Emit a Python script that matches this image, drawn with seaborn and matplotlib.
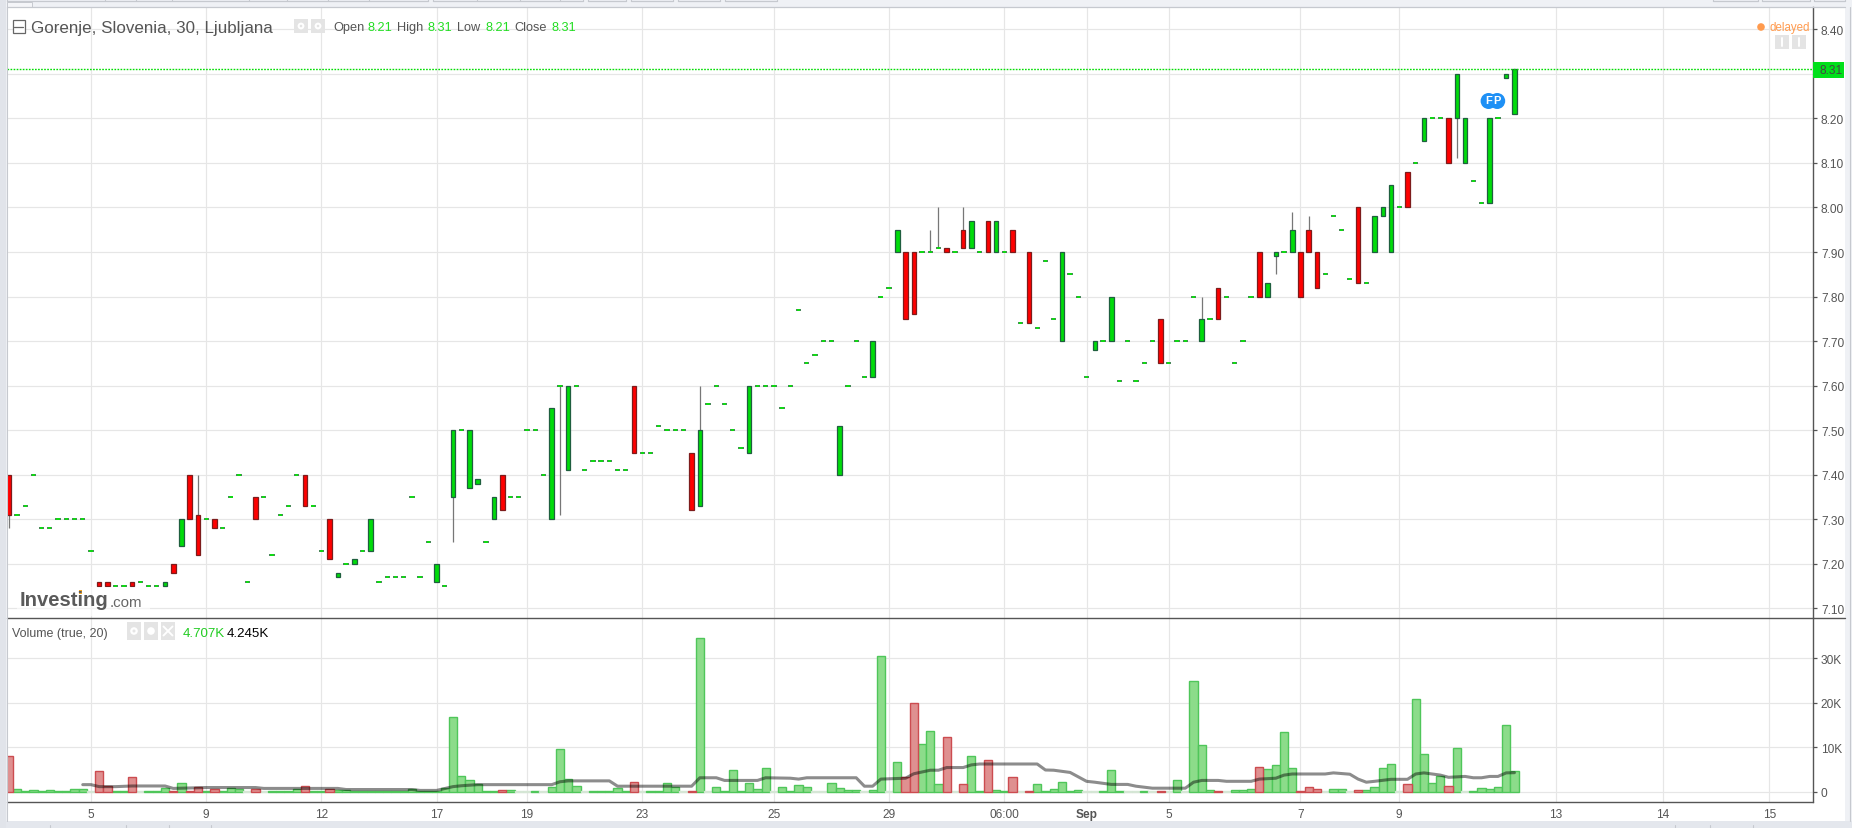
import numpy as np
import pandas as pd
import matplotlib
matplotlib.use("Agg")
import matplotlib.pyplot as plt
from matplotlib.patches import Rectangle, Ellipse
from matplotlib.lines import Line2D
import seaborn as sns

sns.set_theme(style="whitegrid")
plt.rcParams['font.family'] = ['Liberation Sans', 'DejaVu Sans']

# one entry per 30 minute slot
opens = [7.40, 7.31, 7.33, 7.40, 7.28, 7.28, 7.30, 7.30, 7.30, 7.30,
         7.23, 7.16, 7.16, 7.15, 7.15, 7.16, 7.16, 7.15, 7.15, 7.15,
         7.20, 7.24, 7.40, 7.31, 7.30, 7.30, 7.28, 7.35, 7.40, 7.16,
         7.35, 7.35, 7.22, 7.31, 7.33, 7.40, 7.40, 7.33, 7.23, 7.30,
         7.17, 7.20, 7.20, 7.23, 7.23, 7.16, 7.17, 7.17, 7.17, 7.35,
         7.17, 7.25, 7.16, 7.15, 7.35, 7.50, 7.37, 7.38, 7.25, 7.30,
         7.40, 7.35, 7.35, 7.50, 7.50, 7.40, 7.30, 7.60, 7.41, 7.60,
         7.41, 7.43, 7.43, 7.43, 7.41, 7.41, 7.60, 7.45, 7.45, 7.51,
         7.50, 7.50, 7.50, 7.45, 7.33, 7.56, 7.60, 7.56, 7.50, 7.46,
         7.45, 7.60, 7.60, 7.60, 7.55, 7.60, 7.77, 7.65, 7.67, 7.70,
         7.70, 7.40, 7.60, 7.70, 7.62, 7.62, 7.80, 7.82, 7.90, 7.90,
         7.90, 7.90, 7.90, 7.91, 7.91, 7.90, 7.95, 7.91, 7.90, 7.97,
         7.90, 7.90, 7.95, 7.74, 7.90, 7.73, 7.88, 7.75, 7.70, 7.85,
         7.80, 7.62, 7.68, 7.70, 7.70, 7.61, 7.70, 7.61, 7.65, 7.70,
         7.75, 7.65, 7.70, 7.70, 7.80, 7.70, 7.75, 7.82, 7.80, 7.65,
         7.70, 7.80, 7.90, 7.80, 7.89, 7.90, 7.90, 7.90, 7.95, 7.90,
         7.85, 7.98, 7.95, 7.84, 8.00, 7.83, 7.90, 7.98, 7.90, 8.00,
         8.08, 8.10, 8.15, 8.20, 8.20, 8.20, 8.20, 8.10, 8.06, 8.01,
         8.01, 8.20, 8.29, 8.21]
closes = [7.31, 7.31, 7.33, 7.40, 7.28, 7.28, 7.30, 7.30, 7.30, 7.30,
          7.23, 7.15, 7.15, 7.15, 7.15, 7.15, 7.16, 7.15, 7.15, 7.16,
          7.18, 7.30, 7.30, 7.22, 7.30, 7.28, 7.28, 7.35, 7.40, 7.16,
          7.30, 7.35, 7.22, 7.31, 7.33, 7.40, 7.33, 7.33, 7.23, 7.21,
          7.18, 7.20, 7.21, 7.23, 7.30, 7.16, 7.17, 7.17, 7.17, 7.35,
          7.17, 7.25, 7.20, 7.15, 7.50, 7.50, 7.50, 7.39, 7.25, 7.35,
          7.32, 7.35, 7.35, 7.50, 7.50, 7.40, 7.55, 7.60, 7.60, 7.60,
          7.41, 7.43, 7.43, 7.43, 7.41, 7.41, 7.45, 7.45, 7.45, 7.51,
          7.50, 7.50, 7.50, 7.32, 7.50, 7.56, 7.60, 7.56, 7.50, 7.46,
          7.60, 7.60, 7.60, 7.60, 7.55, 7.60, 7.77, 7.65, 7.67, 7.70,
          7.70, 7.51, 7.60, 7.70, 7.62, 7.70, 7.80, 7.82, 7.95, 7.75,
          7.76, 7.90, 7.90, 7.91, 7.90, 7.90, 7.91, 7.97, 7.90, 7.90,
          7.97, 7.90, 7.90, 7.74, 7.74, 7.73, 7.88, 7.75, 7.90, 7.85,
          7.80, 7.62, 7.70, 7.70, 7.80, 7.61, 7.70, 7.61, 7.65, 7.70,
          7.65, 7.65, 7.70, 7.70, 7.80, 7.75, 7.75, 7.75, 7.80, 7.65,
          7.70, 7.80, 7.80, 7.83, 7.90, 7.90, 7.95, 7.80, 7.90, 7.82,
          7.85, 7.98, 7.95, 7.84, 7.83, 7.83, 7.98, 8.00, 8.05, 8.00,
          8.00, 8.10, 8.20, 8.20, 8.20, 8.10, 8.30, 8.20, 8.06, 8.01,
          8.20, 8.20, 8.30, 8.31]

wick_slots = [0, 23, 54, 67, 84, 112, 113, 116, 145, 154, 156, 158, 176]
wick_ends = [7.28, 7.40, 7.25, 7.31, 7.60, 7.95, 8.00, 8.00, 7.80, 7.85, 7.99, 7.98, 8.11]

volume_k = [8.0, 0.5, 0.1, 0.3, 0.1, 0.3, 0.1, 0.1, 0.5, 0.5,
            0.05, 4.7, 1.2, 0.1, 0.2, 3.2, 0.05, 0.1, 0.1, 0.8,
            0.1, 2.0, 0.1, 1.1, 0.1, 0.5, 0.1, 0.9, 0.5, 0.05,
            0.5, 0.05, 0.1, 0.1, 0.1, 0.5, 1.2, 0.1, 0.1, 0.6,
            0.3, 0.3, 0.2, 0.1, 0.1, 0.1, 0.2, 0.1, 0.2, 0.5,
            0.2, 0.2, 0.1, 0.9, 16.7, 3.6, 2.5, 1.6, 0.1, 0.1,
            0.4, 0.4, 0.05, 0.05, 0.2, 0.05, 1.1, 9.6, 2.9, 1.3,
            0.05, 0.2, 0.2, 0.1, 0.7, 0.1, 2.1, 0.05, 0.1, 0.1,
            1.9, 1.0, 0.05, 0.1, 34.6, 0.05, 1.0, 0.1, 4.8, 0.1,
            1.9, 0.5, 5.4, 0.05, 1.0, 0.1, 1.4, 1.0, 0.05, 0.05,
            1.9, 0.75, 0.3, 0.3, 0.05, 0.3, 30.5, 0.05, 6.6, 3.2,
            20.0, 10.8, 13.7, 1.6, 12.2, 0.05, 1.6, 7.9, 0.1, 7.0,
            0.3, 0.1, 3.2, 0.05, 0.1, 1.6, 0.1, 0.5, 2.1, 0.1,
            0.3, 0.05, 0.05, 0.1, 4.8, 0.1, 0.05, 0.05, 0.1, 0.05,
            0.1, 0.05, 2.5, 0.05, 25.0, 10.4, 0.3, 0.1, 0.05, 0.3,
            0.3, 0.6, 5.6, 5.0, 5.9, 13.3, 5.2, 0.1, 1.0, 0.5,
            0.05, 0.5, 0.5, 0.05, 0.3, 0.3, 1.0, 5.4, 6.1, 0.05,
            1.6, 20.9, 8.4, 1.9, 3.4, 1.2, 9.7, 0.05, 0.1, 0.75,
            0.5, 1.0, 14.9, 4.707]

ma_slots = [9, 10, 11, 13, 15, 19, 20, 22, 24, 30, 31, 34, 40, 41, 49, 50, 52, 54, 55, 57,
            66, 67, 68, 73, 74, 83, 84, 86, 87, 91, 92, 95, 96, 97, 103, 104, 105, 106, 109, 110,
            112, 113, 114, 116, 117, 118, 125, 126, 127, 129, 131, 132, 134, 136, 137, 139, 143, 144, 145, 147,
            148, 151, 152, 154, 155, 156, 160, 161, 163, 164, 165, 166, 168, 170, 171, 172, 174, 175, 177, 178,
            179, 180, 181, 182, 183]
ma_values = [1.55, 1.55, 1.1, 1.1, 1.25, 1.25, 0.7, 0.8, 0.9, 0.9, 0.7, 0.7, 0.7, 0.45, 0.45, 0.25, 0.25, 1.1, 1.3, 1.55,
             1.55, 2.2, 2.4, 2.4, 1.2, 1.2, 3.1, 3.1, 2.5, 2.5, 3.1, 3.0, 2.8, 3.1, 3.1, 1.2, 1.2, 2.8, 3.0, 4.0,
             4.8, 4.8, 5.4, 5.4, 6.0, 6.2, 6.2, 4.85, 4.8, 4.3, 2.3, 2.1, 1.6, 1.6, 1.2, 0.75, 0.75, 2.1, 2.5, 2.5,
             2.3, 2.3, 2.8, 3.0, 3.7, 3.95, 3.95, 4.2, 3.9, 2.8, 2.1, 2.3, 2.75, 2.75, 3.95, 4.2, 3.7, 3.2, 3.4, 3.1,
             3.1, 3.4, 3.4, 4.2, 4.245]

tick_slots = [10, 24, 38, 52, 63, 77, 93, 107, 121, 131, 141, 157, 169, 188, 201, 214]
tick_labels = ["5", "9", "12", "17", "19", "23", "25", "29", "06:00", "Sep", "5", "7", "9", "13", "14", "15"]
price_ticks = [7.10, 7.20, 7.30, 7.40, 7.50, 7.60, 7.70, 7.80, 7.90, 8.00, 8.10, 8.20, 8.30, 8.40]
volume_ticks = [0, 10, 20, 30]
volume_labels = ["0", "10K", "20K", "30K"]
last_price = 8.31

W, H = 1852, 829
GRID = "#e6e6e6"
AXIS = "#555555"
RED = "#ff0000"
RED_EDGE = "#7d1c1c"
GREEN = "#00dc0a"
GREEN_EDGE = "#1f5f3f"
FRAME = "#c6c9cf"


def fx(px):
    return px / W


def fy(py):
    return 1 - py / H


def pane(left, top, right, bottom):
    return [fx(left), fy(bottom), (right - left) / W, (bottom - top) / H]


def label(px, py, s, size=9, color="#555555", **kw):
    kw.setdefault("va", "center")
    fig.text(fx(px), fy(py), s, fontsize=size, color=color, **kw)


def box(px0, py0, px1, py1, color, **kw):
    fig.add_artist(Rectangle((fx(px0), fy(py1)), (px1 - px0) / W, (py1 - py0) / H,
                             transform=fig.transFigure, facecolor=color, edgecolor=kw.pop("edge", "none"), **kw))


def dot(cx, cy, r, color, **kw):
    fig.add_artist(Ellipse((fx(cx), fy(cy)), 2 * r / W, 2 * r / H, transform=fig.transFigure,
                           facecolor=color, edgecolor="none", **kw))


def hline(px0, px1, py, color=AXIS, lw=1.0):
    fig.add_artist(Line2D([fx(px0), fx(px1)], [fy(py), fy(py)], color=color, lw=lw, transform=fig.transFigure))


def vline(px, py0, py1, color=FRAME, lw=0.8):
    fig.add_artist(Line2D([fx(px), fx(px)], [fy(py0), fy(py1)], color=color, lw=lw, transform=fig.transFigure))


fig = plt.figure(figsize=(W / 100, H / 100), dpi=100, facecolor="#eff1f5")
box(0, 822, W, H, "#e4e7ed", zorder=-6)
box(7, 8, 1845, 822, "white", zorder=-5)

ax = fig.add_axes(pane(7, 8, 1812.6, 618.5), facecolor="white")
ax_vol = fig.add_axes(pane(7, 618.5, 1812.6, 803), facecolor="white", sharex=ax)

slots = np.arange(len(opens))
df = pd.DataFrame({"slot": slots, "open": opens, "close": closes, "volume": volume_k})
df["dir"] = np.where(df["close"] >= df["open"], "up", "down")
df["top"] = df[["open", "close"]].max(axis=1)
df["bottom"] = df[["open", "close"]].min(axis=1)

# candles
for s, end in zip(wick_slots, wick_ends):
    row = df.iloc[s]
    edge = row["top"] if end > row["top"] else row["bottom"]
    ax.vlines(s, edge, end, color="#777777", lw=0.9, zorder=3)

body = df[df["open"] != df["close"]]
for d, fc, ec in [("up", GREEN, GREEN_EDGE), ("down", RED, RED_EDGE)]:
    part = body[body["dir"] == d]
    ax.bar(part["slot"], part["top"] - part["bottom"], bottom=part["bottom"], width=0.55,
           color=fc, edgecolor=ec, linewidth=0.9, zorder=4)

doji = df[df["open"] == df["close"]]
ax.hlines(doji["close"], doji["slot"] - 0.32, doji["slot"] + 0.32, color="#15652a", lw=1.1, zorder=4)
ax.hlines(doji["close"], doji["slot"] - 0.2, doji["slot"] + 0.2, color="#00f000", lw=1.1, zorder=5)

ax.axhline(last_price, color="#00dd00", lw=1.0, ls=(0, (1.2, 1.0)), zorder=6)

# volume
sns.barplot(data=df, x="slot", y="volume", hue="dir", hue_order=["up", "down"],
            palette={"up": "#8cdc8a", "down": "#df9090"}, native_scale=True, dodge=False,
            width=1.0, saturation=1, legend=False, ax=ax_vol, zorder=3)
for container, ec in zip(ax_vol.containers, ["#4fc65a", "#cc4c50"]):
    for patch in container:
        # the very small bars only show as a pale dash in the reference
        patch.set_edgecolor(ec if patch.get_height() > 0.07 else "#d5e6d5")
        patch.set_linewidth(1.0)
sns.lineplot(x=ma_slots, y=ma_values, color="#000000", alpha=0.45, lw=2.2, ax=ax_vol, zorder=5)

# axes
for a in (ax, ax_vol):
    a.set_xlim(-0.207, 219.24)
    a.set_xticks(tick_slots)
    a.grid(True, color=GRID, lw=0.85)
    a.set_axisbelow(True)
    a.set_xlabel("")
    a.set_ylabel("")
    a.yaxis.tick_right()
    a.tick_params(axis="y", which="major", right=True, length=3, width=0.9, color=AXIS, labelsize=8.6,
                  labelcolor=AXIS, pad=3)
    for name in ("left", "top", "bottom"):
        a.spines[name].set_visible(False)
    a.spines["right"].set_color(AXIS)
    a.spines["right"].set_linewidth(1.0)

ax.set_ylim(7.0797, 8.45)
ax.set_yticks(price_ticks)
# the 8.30 label sits behind the last price tag
ax.set_yticklabels(["" if p == 8.30 else "{:.2f}".format(p) for p in price_ticks])
ax.tick_params(axis="x", bottom=False, labelbottom=False)

ax_vol.set_ylim(-2.36, 39.2)
ax_vol.set_yticks(volume_ticks)
ax_vol.set_yticklabels(volume_labels)
ax_vol.set_xticklabels(tick_labels)
ax_vol.tick_params(axis="x", bottom=False, length=0, labelsize=8.6, labelcolor=AXIS, pad=4)
for t, s in zip(ax_vol.get_xticklabels(), tick_labels):
    if s == "Sep":
        t.set_fontweight("bold")

# separators and frame
hline(7, 1845, 618.5)
hline(7, 1812.6, 803)
box(0, 0, 6, 829, "#e1e4ea", zorder=-4)
hline(7, 1845, 8.3, FRAME, 0.9)
vline(6.5, 8, 822)
vline(1849.5, 8, 822)

# tab strip above the chart
for x0, x1 in [(7, 428), (433, 583), (588, 626), (631, 673), (678, 720), (725, 777),
               (1713, 1758), (1762, 1810), (1814, 1845)]:
    hline(x0, x1, 2.3, FRAME, 0.9)
    vline(x0, 0, 2.3)
    vline(x1, 0, 2.3)
for x in (105, 136, 172, 249, 287, 328, 369, 477, 520, 560):
    vline(x, 0, 2.3)
box(7, 3, 32, 8, "#f4f5f8", edge=FRAME, lw=0.7)
# strip below the chart
for x in (50, 126, 169, 211, 1675, 1710, 1753):
    vline(x, 826, 829)

# top header
box(12.5, 21, 25, 34, "white", edge="#666666", lw=0.9)
hline(14.5, 23, 27.5, "#666666", 0.9)
label(31, 28, "Gorenje, Slovenia, 30, Ljubljana", size=12.25, color="#555555")
for x0 in (294, 311):
    box(x0, 20, x0 + 14, 34, "#e4e4e4")
    dot(x0 + 7, 27, 3.4, "white")
    dot(x0 + 7, 27, 1.3, "#e4e4e4")
for px, s, c in [(333, "Open", "#555555"), (368, "8.21", "#22dd22"), (397, "High", "#555555"), (428, "8.31", "#22dd22"),
                 (457, "Low", "#555555"), (485, "8.21", "#22dd22"), (514, "Close", "#555555"), (552, "8.31", "#22dd22")]:
    label(px, 28, s, size=9.2, color=c)

# delayed marker
dot(1761, 28, 3.8, "#ff9a4d")
label(1769, 27.5, "delayed", size=8.3, color="#ff9a4d")
box(1775, 36, 1789, 50, "#e4e4e4")
box(1791.5, 36, 1806, 50, "#e4e4e4")
vline(1782, 39, 47, "white", 1.4)
vline(1798.7, 39, 47, "white", 1.4)

# last price tag
box(1812.6, 63, 1844, 79, "#00e01a", zorder=5)
label(1819, 71, "8.31", size=8.6, color="#444444", zorder=6)

# event badges
for cx, s in [(1488.6, "F"), (1497.2, "P")]:
    dot(cx, 102, 8.0, "#1e90f5", zorder=7)
for cx, s in [(1488.6, "F"), (1497.2, "P")]:
    label(cx, 101.5, s, size=8, color="white", ha="center", fontweight="bold", zorder=8)

# volume legend
label(12, 634, "Volume (true, 20)", size=9.0, color="#555555")
for x0 in (127, 144, 161):
    box(x0, 623, x0 + 14, 641, "#e4e4e4")
dot(134, 632, 3.8, "white")
dot(134, 632, 1.5, "#e4e4e4")
dot(151, 632, 3.8, "white")
fig.add_artist(Line2D([fx(163.5), fx(172.5)], [fy(627.5), fy(636.5)], color="white", lw=1.4, transform=fig.transFigure))
fig.add_artist(Line2D([fx(163.5), fx(172.5)], [fy(636.5), fy(627.5)], color="white", lw=1.4, transform=fig.transFigure))
label(183, 634, "4.707K", size=9.6, color="#22cc22")
label(227, 634, "4.245K", size=9.6, color="#000000")

# logo
box(17, 588, 150, 617, "white", alpha=0.6, zorder=7)
label(19.5, 601, "Investing", size=14.6, color="#5a5a5a", fontweight="bold", zorder=8)
label(110, 603, ".com", size=10.8, color="#666666", zorder=8)
box(79, 591, 82, 595, "#f5a623", zorder=8)

fig.savefig("out.png", dpi=100, facecolor=fig.get_facecolor())
